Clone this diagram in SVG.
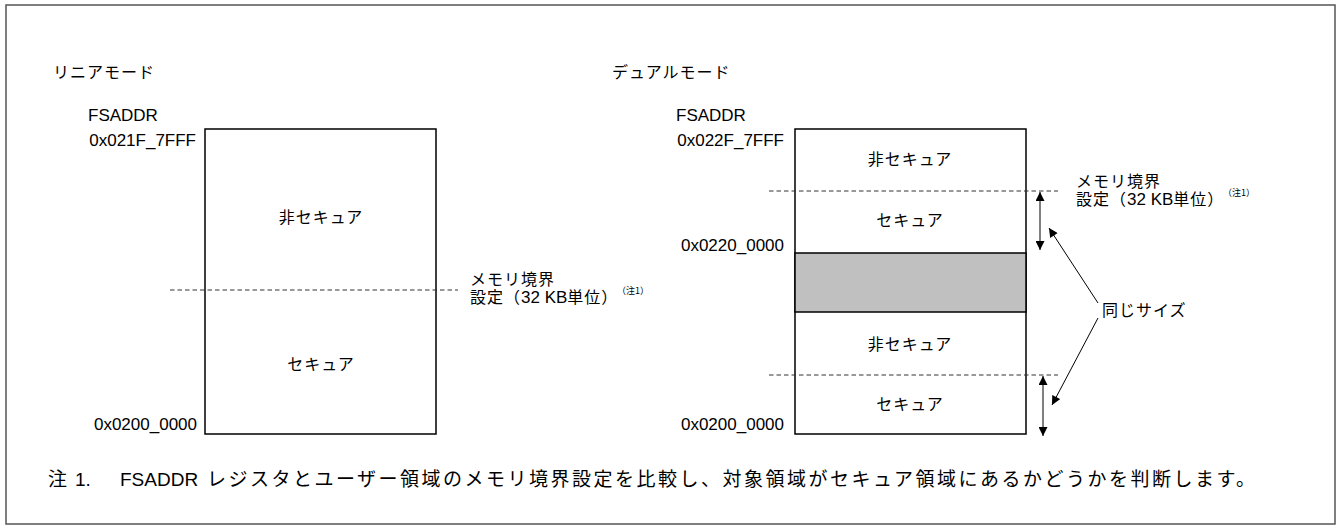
<svg xmlns="http://www.w3.org/2000/svg" width="1343" height="530" viewBox="0 0 1343 530">
<defs>
<style>
.jp{font-family:"Noto Sans CJK JP","Liberation Sans",sans-serif;font-size:16px;letter-spacing:1px;fill:#000}
.en{font-family:"Liberation Sans","Noto Sans CJK JP",sans-serif;font-size:17px;fill:#000}
.box{fill:#fff;stroke:#000;stroke-width:1.5}
.dash{stroke:#333;stroke-width:1;stroke-dasharray:4.5,3;fill:none}
.conn{stroke:#000;stroke-width:1;fill:none}
.sup{font-family:"Noto Sans CJK JP",sans-serif;font-size:9px;fill:#000}
.note{font-family:"Noto Sans CJK JP","Liberation Sans",sans-serif;font-size:19px;fill:#000}
.noteen{font-family:"Liberation Sans",sans-serif;font-size:19px;fill:#000}
</style>
<marker id="ah" viewBox="0 0 10 10" refX="10" refY="5" markerWidth="10" markerHeight="9" markerUnits="userSpaceOnUse" orient="auto-start-reverse">
<path d="M0,0 L10,5 L0,10 Z" fill="#000"/>
</marker>
</defs>
<rect x="6" y="5" width="1329" height="519" fill="#fff" stroke="#555" stroke-width="1.5"/>

<g id="linear-mode">
<text class="jp" x="53" y="78">リニアモード</text>
<text class="en" x="88" y="121">FSADDR</text>
<text class="en" x="196" y="146" text-anchor="end">0x021F_7FFF</text>
<text class="en" x="197" y="430" text-anchor="end">0x0200_0000</text>
<rect class="box" x="205" y="129" width="231" height="305"/>
<text class="jp" x="321" y="223" text-anchor="middle">非セキュア</text>
<text class="jp" x="321" y="370" text-anchor="middle">セキュア</text>
<line class="dash" x1="170" y1="290" x2="458" y2="290"/>
<text class="jp" x="470" y="285">メモリ境界<tspan x="470" y="303">設定（</tspan><tspan class="en" style="letter-spacing:0">32 KB</tspan><tspan>単位）</tspan></text>
<text class="sup" x="617" y="294">（注1）</text>
</g>

<g id="dual-mode">
<text class="jp" x="612" y="78">デュアルモード</text>
<text class="en" x="676" y="121">FSADDR</text>
<text class="en" x="784" y="146" text-anchor="end">0x022F_7FFF</text>
<text class="en" x="784" y="251" text-anchor="end">0x0220_0000</text>
<text class="en" x="784" y="430" text-anchor="end">0x0200_0000</text>
<rect class="box" x="795" y="129" width="231" height="305"/>
<rect x="795" y="253" width="231" height="59" fill="#c0c0c0" stroke="#000" stroke-width="1.5"/>
<text class="jp" x="910" y="165" text-anchor="middle">非セキュア</text>
<text class="jp" x="910" y="226" text-anchor="middle">セキュア</text>
<text class="jp" x="910" y="350" text-anchor="middle">非セキュア</text>
<text class="jp" x="910" y="410" text-anchor="middle">セキュア</text>
<line class="dash" x1="769" y1="191" x2="1058" y2="191"/>
<line class="dash" x1="769" y1="375" x2="1058" y2="375"/>
<text class="jp" x="1076" y="187">メモリ境界<tspan x="1076" y="205">設定（</tspan><tspan class="en" style="letter-spacing:0">32 KB</tspan><tspan>単位）</tspan></text>
<text class="sup" x="1223" y="196">（注1）</text>
<text class="jp" x="1102" y="316">同じサイズ</text>
</g>

<g id="connectors">
<line class="conn" x1="1040" y1="192" x2="1040" y2="250" marker-start="url(#ah)" marker-end="url(#ah)"/>
<line class="conn" x1="1043" y1="376" x2="1043" y2="436" marker-start="url(#ah)" marker-end="url(#ah)"/>
<line class="conn" x1="1098" y1="303" x2="1049" y2="228" marker-end="url(#ah)"/>
<line class="conn" x1="1098" y1="318" x2="1052" y2="405" marker-end="url(#ah)"/>
</g>

<g id="note">
<text class="note" x="48" y="486">注</text>
<text class="noteen" x="75" y="486">1.</text>
<text class="noteen" x="120" y="486">FSADDR</text>
<text class="note" x="207" y="486" textLength="1048" lengthAdjust="spacing">レジスタとユーザー領域のメモリ境界設定を比較し、対象領域がセキュア領域にあるかどうかを判断します。</text>
</g>
</svg>
